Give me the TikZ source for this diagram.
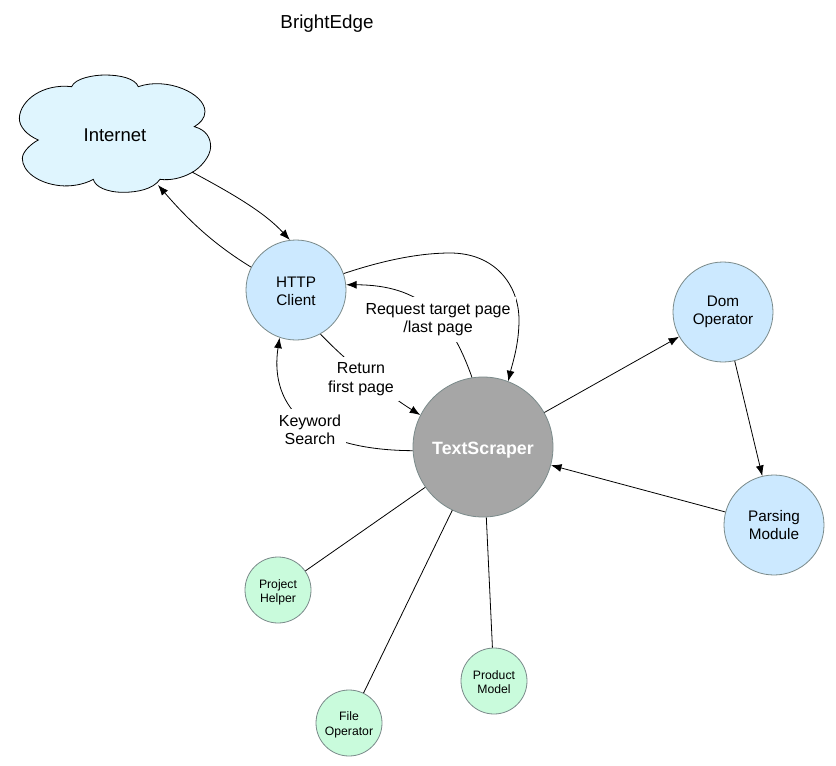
\documentclass[tikz,border=0pt]{standalone}
\usepackage{fontspec}
\setmainfont{Liberation Sans}
\usetikzlibrary{arrows.meta}
\definecolor{bluefill}{HTML}{CCE9FF}
\definecolor{cloudfill}{HTML}{DFF5FE}
\definecolor{greenfill}{HTML}{C9FBDC}
\definecolor{grayfill}{HTML}{A6A6A6}
\definecolor{ringcol}{HTML}{7A8A8A}
\newcommand{\lowtext}[2]{\raisebox{-#1pt}[\height][\depth]{\begin{tabular}{@{}c@{}}#2\end{tabular}}}
\tikzset{
  ball/.style={circle,draw=ringcol,line width=0.8pt,inner sep=0pt,align=center,text=black},
  bigball/.style={ball,fill=bluefill,minimum size=100pt,font=\fontsize{15.3}{18.5}\selectfont},
  smallball/.style={ball,fill=greenfill,minimum size=66pt,font=\fontsize{12.2}{14.5}\selectfont},
  corelabel/.style={fill=white,inner xsep=5pt,inner ysep=6pt,align=center,font=\fontsize{16}{18.5}\selectfont},
  link/.style={line width=0.8pt,black},
  arrowlink/.style={link,-{Latex[length=10.5pt,width=8pt]}},
}
\begin{document}
\begin{tikzpicture}[x=1pt,y=-1pt]
\useasboundingbox (0,0) rectangle (836,766);
\fill[white] (0,0) rectangle (836,766);
\node[font=\fontsize{18.8}{22}\selectfont] (title) at (327,24) {BrightEdge};
% cloud outline, traced
\begin{scope}[shift={(0,70)},x=0.3333pt,y=-0.3333pt]
\draw[fill=cloudfill,draw=black,line width=0.8pt] (215,50)
  .. controls (225,25) and (280,15) .. (315,15)
  .. controls (360,15) and (405,25) .. (415,50)
  .. controls (500,20) and (615,70) .. (615,125)
  .. controls (615,145) and (600,160) .. (583,170)
  .. controls (620,180) and (632,205) .. (632,230)
  .. controls (632,260) and (600,295) .. (575,308)
  .. controls (545,325) and (510,332) .. (480,328)
  .. controls (460,358) and (410,367) .. (370,367)
  .. controls (320,367) and (285,350) .. (280,328)
  .. controls (250,345) and (210,350) .. (180,347)
  .. controls (115,340) and (67,305) .. (67,265)
  .. controls (67,245) and (95,220) .. (115,210)
  .. controls (80,195) and (58,170) .. (58,145)
  .. controls (60,90) and (130,40) .. (215,50) -- cycle;
\end{scope}
\node[font=\fontsize{18.5}{22}\selectfont] (internet) at (115,135) {Internet};
\coordinate (cloudout) at (192,172);
\coordinate (cloudin) at (158,185);
\node[bigball] (http) at (296,290) {\lowtext{3}{HTTP\\Client}};
\node[bigball] (dom) at (723,312) {Dom\\Operator};
\node[bigball] (parse) at (774,525) {Parsing\\Module};
\node[ball,fill=grayfill,minimum size=140pt,text=white,font=\fontsize{17.8}{22}\selectfont\bfseries] (core) at (483,447) {\lowtext{3}{TextScraper}};
\node[smallball] (project) at (278,590) {\lowtext{2.5}{Project\\Helper}};
\node[smallball] (file) at (349,723) {\lowtext{2}{File\\Operator}};
\node[smallball] (product) at (494,681) {\lowtext{2.5}{Product\\Model}};
% connectors
\draw[arrowlink] (cloudout) .. controls (235,195) and (265,213) .. (http.97);
\draw[arrowlink] (http.153) .. controls (215,245) and (190,222) .. (cloudin);
\draw[arrowlink] (http.19) .. controls (390,258) and (425,253) .. (450,253) .. controls (495,253) and (519,285) .. (519,320) .. controls (519,345) and (512,365) .. (core.69);
\draw[arrowlink] (core.99) .. controls (450,315) and (420,285) .. (http.6);
\draw[arrowlink] (http.-61) .. controls (345,360) and (385,393) .. (core.153);
\draw[arrowlink] (core.183) .. controls (300,450) and (270,400) .. (http.251);
\draw[arrowlink] (core) -- (dom);
\draw[arrowlink] (dom) -- (parse);
\draw[arrowlink] (parse) -- (core);
\draw[link] (core) -- (project);
\draw[link] (core) -- (file);
\draw[link] (core) -- (product);
% labels
\node[corelabel] (lblreq) at (438,319.5) {Request target page\\/last page};
\node[corelabel] (lblret) at (361,379) {Return\\first page};
\node[corelabel] (lblkey) at (310,430) {Keyword\\Search};
\end{tikzpicture}
\end{document}
